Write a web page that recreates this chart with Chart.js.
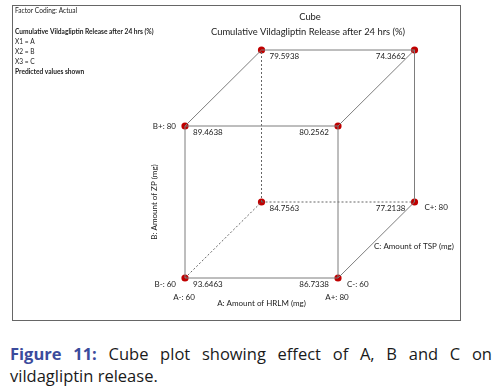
<!DOCTYPE html>
<html>
<head>
<meta charset="utf-8">
<script src="https://cdn.jsdelivr.net/npm/chart.js@4.4.0/dist/chart.umd.min.js"></script>
<style>
  body { margin: 0; background: #fff; width: 501px; height: 391px; overflow: hidden; position: relative; }
  #cube { position: absolute; left: 0; top: 0; }
  #caption {
    position: absolute; left: 10px; top: 343px; width: 482px;
    font-family: "Open Sans", "Liberation Sans", sans-serif; font-size: 16.5px; line-height: 22px;
    color: #1a1a1a; text-align: justify;
  }
  #caption b { color: #3b4b9c; }
</style>
</head>
<body>
<canvas id="cube" width="501" height="335"></canvas>
<div id="caption"><b>Figure 11:</b> Cube plot showing effect of A, B and C on vildagliptin release.</div>
<script>
// ---- Cube plot data (coded levels -1 / +1, actual levels 60 / 80) ----
const levelsA = [60, 80];
const levelsB = [60, 80];
const levelsC = [60, 80];
// corners as [a, b, c] coded, with predicted response
const cornerCodes = [
  [-1, -1, -1], [1, -1, -1], [-1, 1, -1], [1, 1, -1],
  [-1, -1, 1], [1, -1, 1], [-1, 1, 1], [1, 1, 1]
];
const predicted = [93.6463, 86.7338, 89.4638, 80.2562, 84.7563, 77.2138, 79.5938, 74.3662];

const titleLines = ["Cube", "Cumulative Vildagliptin Release after 24 hrs (%)"];
const infoLines = ["Factor Coding: Actual", "", "Cumulative Vildagliptin Release after 24 hrs (%)", "X1 = A", "X2 = B", "X3 = C", "Predicted values shown"];
const axisTitles = { a: "A: Amount of HRLM (mg)", b: "B: Amount of ZP (mg)", c: "C: Amount of TSP (mg)" };

// simple oblique projection: depth (C) shifts up/right by half a unit per coded unit
function project(code) {
  const d = 0.5 * (code[2] + 1);
  return { x: code[0] + d, y: code[1] + d };
}

const pts = cornerCodes.map(project);

// edges: pairs of corner indices, hidden ones dashed
const solidEdges = [[0, 1], [0, 2], [1, 3], [2, 3], [1, 5], [3, 7], [2, 6], [6, 7], [5, 7]];
const dashedEdges = [[0, 4], [4, 5], [4, 6]];

function edgeDataset(edge, dashed) {
  return {
    type: "line",
    data: [pts[edge[0]], pts[edge[1]]],
    borderColor: dashed ? "#666" : "#7d7d7d",
    borderWidth: 1,
    borderDash: dashed ? [2, 2] : [],
    pointRadius: 0,
    fill: false
  };
}

const datasets = [];
solidEdges.forEach(e => datasets.push(edgeDataset(e, false)));
dashedEdges.forEach(e => datasets.push(edgeDataset(e, true)));
datasets.push({
  type: "scatter",
  data: pts,
  pointRadius: 3.6,
  pointBackgroundColor: "#c00000",
  pointBorderColor: "#c00000",
  borderWidth: 0
});

const font = "Lato, \"Open Sans\", sans-serif";

const cubeTextPlugin = {
  id: "cubeText",
  afterDatasetsDraw(chart) {
    const { ctx, scales } = chart;
    const px = p => scales.x.getPixelForValue(p.x);
    const py = p => scales.y.getPixelForValue(p.y);
    ctx.save();
    // frame
    ctx.strokeStyle = "#666";
    ctx.lineWidth = 1;
    ctx.strokeRect(12.5, 5.5, 448, 315);

    ctx.fillStyle = "#222";
    ctx.textBaseline = "middle";
    // info block
    ctx.textAlign = "left";
    infoLines.forEach((t, i) => {
      if (!t) return;
      const bold = i === 2 || i === 6;
      ctx.font = (bold ? "bold " : "") + "6.6px " + font;
      ctx.fillText(t, 15, 11 + i * 10.2);
    });
    // titles
    ctx.textAlign = "center";
    ctx.font = "9.4px " + font;
    ctx.fillText(titleLines[0], 310, 17);
    ctx.fillText(titleLines[1], 308, 32);

    // value labels
    ctx.font = "8px " + font;
    pts.forEach((p, i) => {
      const left = cornerCodes[i][0] < 0;
      ctx.textAlign = left ? "left" : "right";
      ctx.fillText(predicted[i].toFixed(4), px(p) + (left ? 8 : -9), py(p) + 6.5);
    });

    // level labels
    const fl = pts[0], fr = pts[1], ft = pts[2], br = pts[5];
    ctx.textAlign = "right";
    ctx.fillText("B-: " + levelsB[0], px(fl) - 9, py(fl) + 6);
    ctx.fillText("B+: " + levelsB[1], px(ft) - 9, py(ft));
    ctx.textAlign = "left";
    ctx.fillText("C-: " + levelsC[0], px(fr) + 9, py(fr) + 6);
    ctx.fillText("C+: " + levelsC[1], px(br) + 10, py(br) + 5);
    ctx.textAlign = "center";
    ctx.fillText("A-: " + levelsA[0], px(fl) - 1, py(fl) + 19);
    ctx.fillText("A+: " + levelsA[1], px(fr) - 1, py(fr) + 19);

    // axis titles
    ctx.fillText(axisTitles.a, (px(fl) + px(fr)) / 2, py(fl) + 25);
    ctx.textAlign = "left";
    ctx.fillText(axisTitles.c, 374, 246);
    ctx.translate(154, (py(fl) + py(ft)) / 2);
    ctx.rotate(-Math.PI / 2);
    ctx.textAlign = "center";
    ctx.fillText(axisTitles.b, 0, 0);
    ctx.restore();
  }
};

// chart area spans the whole canvas: 76.5 px per coded unit in x, 76 in y
new Chart(document.getElementById("cube").getContext("2d"), {
  type: "scatter",
  data: { datasets },
  options: {
    responsive: false,
    animation: false,
    layout: { padding: 0, autoPadding: false },
    plugins: { legend: { display: false }, tooltip: { enabled: false } },
    scales: {
      x: { type: "linear", display: false, min: -261.5 / 76.5, max: (501 - 261.5) / 76.5 },
      y: { type: "linear", display: false, min: -(335 - 202) / 76, max: 202 / 76 }
    }
  },
  plugins: [cubeTextPlugin]
});
</script>
</body>
</html>
